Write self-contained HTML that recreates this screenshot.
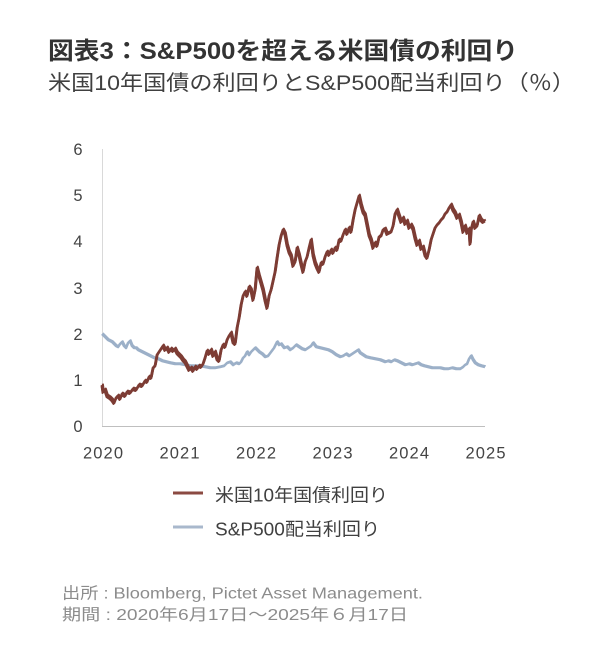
<!DOCTYPE html>
<html><head><meta charset="utf-8"><style>
html,body{margin:0;padding:0;background:#fff;}
svg{display:block;}
text{font-family:"Liberation Sans","Noto Sans CJK JP",sans-serif;}
</style></head><body>
<svg width="603" height="645" viewBox="0 0 603 645" xmlns="http://www.w3.org/2000/svg" xmlns:xlink="http://www.w3.org/1999/xlink">
<rect width="603" height="645" fill="#fff"/>
<text x="48" y="59" font-size="24" font-weight="bold" fill="#333" textLength="470" lengthAdjust="spacingAndGlyphs">図表3：S&amp;P500を超える米国債の利回り</text>
<text x="48" y="90" font-size="21" fill="#404040" textLength="527" lengthAdjust="spacingAndGlyphs">米国10年国債の利回りとS&amp;P500配当利回り（％）</text>

<g font-size="16.5" fill="#444" text-anchor="middle">
<text x="78" y="155">6</text>
<text x="78" y="201">5</text>
<text x="78" y="247">4</text>
<text x="78" y="294">3</text>
<text x="78" y="340">2</text>
<text x="78" y="386">1</text>
<text x="78" y="432">0</text>
</g>
<g font-size="16.5" fill="#444">
<text x="83" y="458.5" textLength="40">2020</text>
<text x="159.5" y="458.5" textLength="40">2021</text>
<text x="236" y="458.5" textLength="40">2022</text>
<text x="312.5" y="458.5" textLength="40">2023</text>
<text x="389" y="458.5" textLength="40">2024</text>
<text x="465.5" y="458.5" textLength="40">2025</text>
</g>

<line x1="102.5" y1="149" x2="102.5" y2="427" stroke="#d9d9d9" stroke-width="1"/>
<line x1="102" y1="426.5" x2="485" y2="426.5" stroke="#bfbfbf" stroke-width="1"/>

<defs>
<polyline id="blue" fill="none" stroke-linejoin="round" points="102,334 104,336 106,338 108,340 110,341 112,342 114,344 116,346 118,347 120,344 122,342 124,346 126,348 128,343 130,341 132,346 134,348 136,348 138,350 142,352 146,354 150,356 154,358 158,359 162,361 166,362 170,363 175,364 180,364 185,365 190,366 195,366 200,366 205,367 210,368 215,368 220,367 224,366 227,363 230,362 233,365 236,363 239,364 241,362 243,358 245,356 247,352 249,355 251,352 253,350 255,348 257,350 259,352 262,354 265,357 268,356 271,352 274,348 277,342 279,345 281,344 284,348 287,347 290,350 293,348 296,345 299,347 302,349 305,350 308,348 311,346 313,343 316,347 320,348 324,349 328,350 332,352 336,355 340,357 343,356 346,354 349,356 352,354 355,352 358,350 360,353 363,355 366,357 370,358 375,359 380,360 385,362 388,361 391,362 394,360 397,361 401,363 405,365 409,364 412,365 415,364 418,363 421,365 424,366 428,367 432,368 436,368 440,368 444,369 448,369 452,368 456,369 460,369 463,367 465,365 467,364 469,359 471,356 473,360 475,363 478,365 481,366 485,367"/>
<polyline id="red" fill="none" stroke-linejoin="round" points="102,385 103,392 105,390 107,396 110,398 112,400 114,403 116,398 118,396 120,399 122,394 125,396 127,392 130,393 133,389 136,390 139,385 142,386 145,381 147,382 149,377 151,378 153,368 155,366 157,355 159,352 161,349 163,346 165,350 167,348 169,352 171,349 173,351 175,349 177,353 179,355 181,357 183,360 185,362 187,366 189,370 191,368 193,371 195,367 197,369 199,366 201,367 203,364 205,358 207,351 209,354 211,350 213,356 215,352 217,359 219,361 221,350 223,345 225,347 227,340 229,336 231,333 233,342 235,344 237,328 239,318 241,305 243,296 245,292 247,296 249,287 251,290 253,300 255,290 257,268 259,276 261,283 263,290 265,300 267,308 269,296 271,290 273,281 275,272 277,258 279,245 281,236 283,230 285,234 287,245 289,252 291,256 293,266 295,262 297,248 299,255 301,264 303,272 305,262 307,257 309,248 311,240 313,255 315,263 317,268 319,272 321,263 323,264 325,257 327,252 329,255 331,250 333,253 335,248 337,250 339,240 341,241 343,235 345,230 347,234 349,228 351,232 353,220 355,210 357,203 359,196 361,205 363,212 365,215 367,225 369,235 371,240 373,248 375,243 377,246 379,237 381,236 383,230 385,229 387,234 389,233 391,232 393,226 395,214 397,210 399,216 401,222 403,218 405,224 407,221 409,228 411,225 413,229 415,238 417,245 419,241 421,249 423,247 425,255 427,258 429,250 431,240 433,234 435,228 437,225 439,223 441,220 443,218 445,214 447,212 449,208 451,205 453,210 455,213 457,218 459,215 461,222 463,232 465,226 467,233 469,229 470,244 471,230 473,222 475,228 477,226 479,216 481,220 483,222 485,221"/>
</defs>

<use xlink:href="#blue" href="#blue" stroke="#9cb0c8" stroke-width="2.6"/>
<use xlink:href="#blue" href="#blue" stroke="#9cb0c8" stroke-width="1.6" transform="translate(0.8,-1)"/>

<use xlink:href="#red" href="#red" stroke="#7d3c34" stroke-width="2.8"/>
<use xlink:href="#red" href="#red" stroke="#7d3c34" stroke-width="2" transform="translate(0.8,-1.4)"/>
<use xlink:href="#red" href="#red" stroke="#7d3c34" stroke-width="1.6" transform="translate(-0.6,1.2)"/>

<line x1="173" y1="493" x2="203" y2="493" stroke="#8b4a42" stroke-width="3"/>
<line x1="173" y1="527" x2="203" y2="527" stroke="#a9b8cc" stroke-width="3"/>
<text x="215" y="501.5" font-size="18" fill="#404040" textLength="173" lengthAdjust="spacingAndGlyphs">米国10年国債利回り</text>
<text x="215" y="535.5" font-size="18" fill="#404040" textLength="165" lengthAdjust="spacingAndGlyphs">S&amp;P500配当利回り</text>

<text x="62" y="598.5" font-size="16" fill="#8c8c8c" textLength="361" lengthAdjust="spacingAndGlyphs">出所 : Bloomberg, Pictet Asset Management.</text>
<text x="62" y="620" font-size="16" fill="#8c8c8c" textLength="346" lengthAdjust="spacingAndGlyphs">期間 : 2020年6月17日～2025年６月17日</text>
</svg>
</body></html>
